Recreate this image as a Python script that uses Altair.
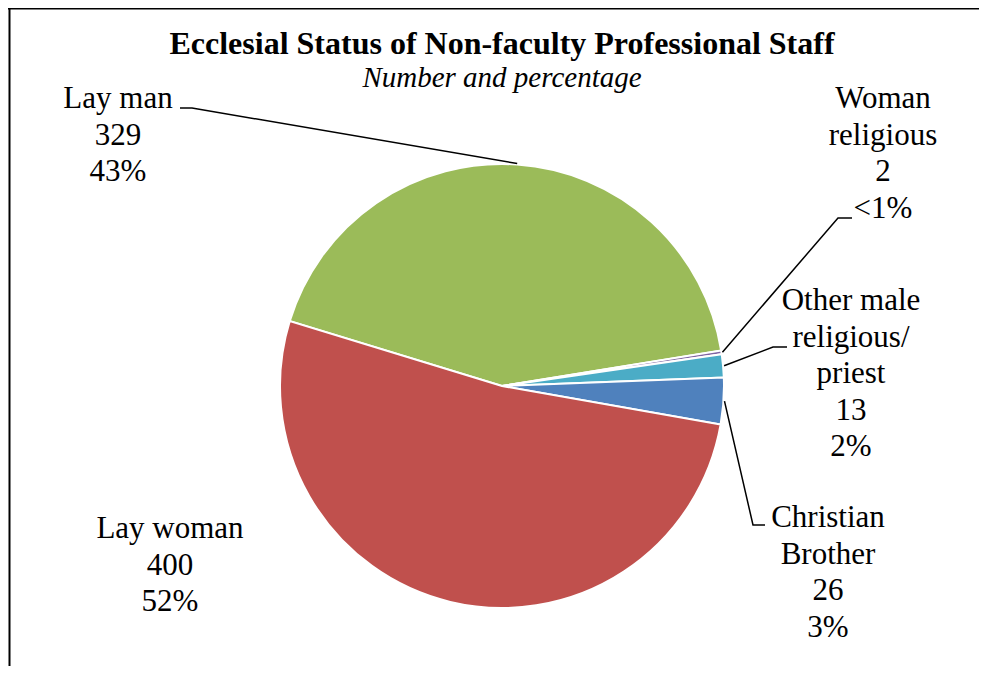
import math
import altair as alt
import pandas as pd

# ---------------- data ----------------
categories = ["Lay man", "Woman religious", "Other male religious/ priest",
              "Christian Brother", "Lay woman"]
counts = [329, 2, 13, 26, 400]
pct_labels = ["43%", "<1%", "2%", "3%", "52%"]
name_lines = [["Lay man"], ["Woman", "religious"], ["Other male", "religious/", "priest"],
              ["Christian", "Brother"], ["Lay woman"]]
colors = ["#9BBB59", "#8064A2", "#4BACC6", "#4F81BD", "#C0504D"]

title_text = "Ecclesial Status of Non-faculty Professional Staff"
subtitle_text = "Number and percentage"

# ---------------- layout ----------------
W, H = 971, 658
CX, CY, R = 494, 378, 222
START_DEG = 287.0
FONT = "Liberation Serif"
LINE_H = 36.5

label_pos = {
    "Lay man": (110, 100),
    "Woman religious": (875, 100),
    "Other male religious/ priest": (843, 302),
    "Christian Brother": (820, 519),
    "Lay woman": (162, 530),
}
leader_pts = {
    "Lay man": [(184, 100), (172, 100)],
    "Woman religious": [(830, 210), (844, 210)],
    "Other male religious/ priest": [(765, 339), (779, 339)],
    "Christian Brother": [(745, 517), (757, 517)],
}

# ---------------- tables ----------------
df = pd.DataFrame({"category": categories, "count": counts,
                   "idx": list(range(len(categories)))})

lab_rows = []
for c, n, p, lines in zip(categories, counts, pct_labels, name_lines):
    lx, ly = label_pos[c]
    for i, s in enumerate(lines + [str(n), p]):
        lab_rows.append({"category": c, "lx": lx, "ly": ly + i * LINE_H, "text": s})
lab_df = pd.DataFrame(lab_rows)

total = sum(counts)
line_rows = []
cum = 0
for c, n in zip(categories, counts):
    mid = math.radians(START_DEG + (cum + n / 2) / total * 360.0)
    cum += n
    if c not in leader_pts:
        continue
    sx = CX + (R + 1) * math.sin(mid)
    sy = CY - (R + 1) * math.cos(mid)
    pts = [(sx, sy)] + leader_pts[c]
    for k, (px, py) in enumerate(pts):
        line_rows.append({"category": c, "k": k, "px": px, "py": py})
line_df = pd.DataFrame(line_rows)

start = math.radians(START_DEG)

pie = alt.Chart(df).mark_arc(outerRadius=R, stroke="white", strokeWidth=2).encode(
    theta=alt.Theta("count:Q", stack=True,
                    scale=alt.Scale(range=[start, start + 2 * math.pi])),
    color=alt.Color("category:N", scale=alt.Scale(domain=categories, range=colors),
                    legend=None),
    order=alt.Order("idx:Q"),
    x=alt.value(CX),
    y=alt.value(CY),
)

leaders = alt.Chart(line_df).mark_line(color="black", strokeWidth=1.5).encode(
    x=alt.X("px:Q", scale=None, axis=None),
    y=alt.Y("py:Q", scale=None, axis=None),
    detail="category:N",
    order="k:Q",
)

labels = alt.Chart(lab_df).mark_text(
    font=FONT, fontSize=31, align="center", baseline="alphabetic", color="black"
).encode(
    x=alt.X("lx:Q", scale=None, axis=None),
    y=alt.Y("ly:Q", scale=None, axis=None),
    text="text:N",
)

title = alt.Chart(pd.DataFrame({"t": [title_text]})).mark_text(
    font=FONT, fontSize=32, fontWeight="bold", align="center", baseline="alphabetic",
    color="black"
).encode(x=alt.value(494), y=alt.value(46), text="t:N")

subtitle = alt.Chart(pd.DataFrame({"t": [subtitle_text]})).mark_text(
    font=FONT, fontSize=29, fontStyle="italic", align="center", baseline="alphabetic",
    color="black"
).encode(x=alt.value(494), y=alt.value(79), text="t:N")

frame_left = alt.Chart(pd.DataFrame({"a": [0]})).mark_rule(color="black", strokeWidth=2).encode(
    x=alt.value(1.5), y=alt.value(0), y2=alt.value(H))
frame_top = alt.Chart(pd.DataFrame({"a": [0]})).mark_rule(color="black", strokeWidth=2).encode(
    x=alt.value(0), x2=alt.value(W), y=alt.value(0.5))

chart = alt.layer(pie, leaders, labels, title, subtitle, frame_left, frame_top).properties(
    width=W, height=H,
    autosize=alt.AutoSizeParams(type="none"),
    padding=0,
).configure(font=FONT).configure_text(font=FONT).configure_view(stroke=None)

chart.save("out.html", embed_options={"renderer": "svg", "actions": False})
